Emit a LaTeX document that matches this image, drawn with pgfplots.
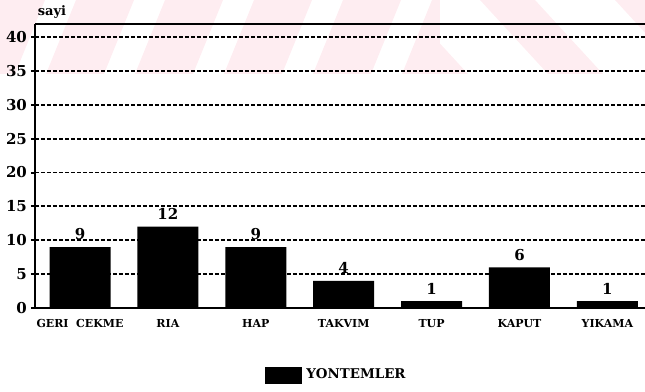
\documentclass[border=0pt]{standalone}
\usepackage{pgfplots}
\pgfplotsset{compat=1.18}
\usepackage{fontspec}
\setmainfont{DejaVu Serif}
\definecolor{wmpink}{RGB}{254,237,241}

\newcommand{\numfont}{\fontsize{7.5}{8}\selectfont\bfseries}
\newcommand{\catfont}{\fontsize{5.5}{6}\selectfont\bfseries}

\begin{document}
\begin{tikzpicture}
\useasboundingbox (0pt,0pt) rectangle (322.5pt,196pt);
% faint striped band along the top edge
\begin{scope}[x=0.5pt,y=0.5pt]
  \begin{scope}
    \clip (0,318) rectangle (440,392);
    \foreach \b in {-43,46,135,224,313,402}
      \fill[wmpink] (\b,318) -- (\b+58,318) -- (\b+88,392) -- (\b+30,392) -- cycle;
  \end{scope}
  \begin{scope}
    \clip (440,318) rectangle (645,392);
    \foreach \t in {345,480,615}
      \fill[wmpink] (\t,392) -- (\t+55,392) -- (\t+123,318) -- (\t+68,318) -- cycle;
  \end{scope}
\end{scope}

\begin{axis}[
  at={(17.5pt,42pt)}, anchor=south west,
  scale only axis, width=305pt, height=142.25pt,
  xmin=-0.512, xmax=6.428, ymin=0, ymax=42,
  axis x line*=bottom, axis y line*=left,
  axis line style={line width=1.2pt, black},
  xtick={0,...,6},
  xticklabels={GERI\ \ CEKME,RIA,HAP,TAKVIM,TUP,KAPUT,YIKAMA},
  major x tick style={draw=none},
  xticklabel style={font=\catfont, yshift=0pt},
  ytick={0,5,...,40},
  tick align=outside, major tick length=2pt,
  major y tick style={line width=1pt, black},
  yticklabel style={font=\numfont, xshift=1.5pt},
  /pgf/number format/assume math mode=true,
  ymajorgrids,
  grid style={dash pattern=on 2pt off 1pt, line width=0.9pt, black},
  legend style={at={(0.377,-0.237)}, anchor=west, draw=none, fill=none,
                font=\fontsize{6.7}{7}\selectfont\bfseries, inner sep=0pt},
  legend image code/.code={\fill[black] (0pt,-4.25pt) rectangle (18.5pt,4.25pt);},
]
\addplot[ybar, fill=black, draw=none, bar width=30.5pt,
  nodes near coords, nodes near coords style={font=\numfont, black}]
  coordinates {(0,9) (1,12) (2,9) (3,4) (4,1) (5,6) (6,1)};
\addlegendentry{YONTEMLER}
\draw[line width=1.2pt, black] (rel axis cs:0,1) -- (rel axis cs:1,1);
\end{axis}
% unit label above the value axis
\node[font=\fontsize{6.5}{7}\selectfont\bfseries, anchor=base] at (26pt,188pt) {sayi};
\end{tikzpicture}
\end{document}
